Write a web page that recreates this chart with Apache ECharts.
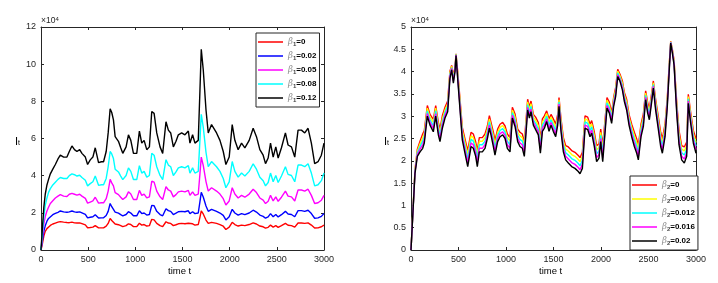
<!DOCTYPE html>
<html><head><meta charset="utf-8">
<script src="https://cdn.jsdelivr.net/npm/echarts@6/dist/echarts.min.js"></script>
<style>html,body{margin:0;padding:0;background:#fff}#c{width:718px;height:283px}</style>
</head><body><div id="c"></div>
<script>
// ---------- left panel (values in units of 10^4) ----------
const tL = [0,15,30,45,63,80,99,125,152,180,
205,240,275,300,328,355,381,410,434,451,
470,494,522,550,575,610,640,663,691,712,
733,750,768,786,821,845,867,902,927,952,
980,1015,1043,1068,1093,1121,1149,1174,1199,1227,
1262,1290,1325,1350,1375,1403,1431,1456,1491,1526,
1562,1579,1607,1632,1667,1685,1699,1720,1749,1773,
1808,1826,1861,1897,1932,1960,1995,2027,2055,2090,
2126,2161,2207,2249,2284,2320,2355,2380,2408,2433,
2461,2489,2514,2549,2591,2619,2655,2690,2725,2761,
2796,2831,2866,2901,2937,2972,3000];
const L_red = [0,0.35,0.75,1.0,1.15,1.25,1.32,1.4,1.45,1.5,
1.53,1.5,1.48,1.47,1.5,1.46,1.45,1.46,1.42,1.43,
1.35,1.2,1.21,1.23,1.31,1.19,1.19,1.19,1.28,1.43,
1.7,1.59,1.53,1.40,1.36,1.31,1.26,1.31,1.41,1.37,
1.26,1.26,1.44,1.34,1.37,1.29,1.31,1.65,1.62,1.43,
1.31,1.26,1.52,1.45,1.43,1.31,1.36,1.41,1.43,1.41,
1.44,1.34,1.41,1.34,1.37,1.77,2.10,1.94,1.61,1.43,
1.49,1.50,1.43,1.37,1.28,1.10,1.23,1.49,1.37,1.29,
1.34,1.31,1.37,1.46,1.40,1.29,1.25,1.18,1.22,1.34,
1.23,1.31,1.22,1.31,1.43,1.33,1.31,1.23,1.45,1.45,
1.43,1.46,1.34,1.18,1.19,1.25,1.34];
const L_blue = [0,0.5,1.0,1.3,1.55,1.7,1.8,1.9,1.97,2.03,
2.1,2.05,2.03,2.05,2.1,2.05,2.03,2.05,2.0,2.02,
1.92,1.73,1.76,1.79,1.90,1.72,1.73,1.73,1.86,2.08,
2.5,2.33,2.24,2.04,1.98,1.90,1.84,1.91,2.06,1.99,
1.84,1.84,2.11,1.96,1.99,1.88,1.91,2.4,2.38,2.08,
1.91,1.84,2.22,2.12,2.08,1.91,1.98,2.06,2.08,2.06,
2.11,1.96,2.06,1.96,1.99,2.60,3.10,2.85,2.37,2.08,
2.19,2.20,2.08,1.99,1.86,1.62,1.79,2.19,1.99,1.88,
1.96,1.90,1.99,2.14,2.04,1.88,1.81,1.71,1.78,1.96,
1.79,1.91,1.78,1.90,2.08,1.94,1.91,1.79,2.12,2.12,
2.08,2.14,1.96,1.71,1.73,1.81,1.96];
const L_magenta = [0,0.7,1.4,1.8,2.1,2.3,2.5,2.65,2.8,2.9,
2.98,2.9,2.88,3.0,3.05,3.0,2.95,3.0,2.9,2.93,
2.78,2.52,2.58,2.64,2.84,2.52,2.54,2.54,2.76,3.17,
3.8,3.61,3.45,3.09,2.98,2.84,2.72,2.86,3.13,3.01,
2.72,2.72,3.21,2.94,3.01,2.80,2.86,3.7,3.65,3.17,
2.86,2.72,3.41,3.23,3.17,2.86,2.98,3.13,3.17,3.13,
3.21,2.94,3.13,2.94,3.01,4.10,5.00,4.55,3.68,3.17,
3.35,3.37,3.17,3.01,2.76,2.42,2.64,3.35,3.01,2.80,
2.94,2.84,3.01,3.27,3.09,2.80,2.68,2.50,2.62,2.94,
2.64,2.86,2.62,2.84,3.17,2.90,2.86,2.64,3.23,3.23,
3.17,3.27,2.94,2.50,2.54,2.68,2.94];
const L_cyan = [0,0.9,1.8,2.4,2.8,3.1,3.3,3.5,3.65,3.8,
3.9,3.85,3.85,4.0,4.1,4.05,3.98,4.02,3.9,3.95,
3.75,3.45,3.57,3.67,3.98,3.48,3.51,3.51,3.85,4.48,
5.3,5.17,4.92,4.35,4.20,3.98,3.79,4.01,4.42,4.23,
3.79,3.79,4.54,4.14,4.23,3.92,4.01,5.2,5.1,4.48,
4.01,3.79,4.86,4.57,4.48,4.01,4.20,4.42,4.48,4.42,
4.54,4.14,4.42,4.14,4.23,5.92,7.30,6.61,5.26,4.48,
4.76,4.79,4.48,4.23,3.85,3.35,3.67,4.76,4.23,3.92,
4.14,3.98,4.23,4.64,4.35,3.92,3.73,3.45,3.63,4.14,
3.67,4.01,3.63,3.98,4.48,4.07,4.01,3.67,4.57,4.57,
4.48,4.64,4.14,3.45,3.51,3.73,4.14];
const L_black = [0,1.2,2.3,3.0,3.5,3.8,4.1,4.35,4.6,4.9,
5.1,5.0,5.0,5.3,5.6,5.4,5.3,5.4,5.2,5.3,
5.0,4.6,4.85,5.0,5.5,4.7,4.75,4.75,5.3,6.3,
7.6,7.4,7.0,6.1,5.85,5.5,5.2,5.55,6.2,5.9,
5.2,5.2,6.4,5.75,5.9,5.4,5.55,7.45,7.35,6.3,
5.55,5.2,6.9,6.45,6.3,5.55,5.85,6.2,6.3,6.2,
6.4,5.75,6.2,5.75,5.9,8.6,10.8,9.7,7.55,6.3,
6.75,6.8,6.3,5.9,5.3,4.6,5.0,6.75,5.9,5.4,
5.75,5.5,5.9,6.55,6.1,5.4,5.1,4.65,4.95,5.75,
5.0,5.55,4.95,5.5,6.3,5.65,5.55,5.0,6.45,6.45,
6.3,6.55,5.75,4.65,4.75,5.1,5.75];
const legendL = ['0','0.02','0.05','0.08','0.12'];
const colorsL = ['#ff0000','#0000ff','#ff00ff','#00ffff','#000000'];

// ---------- right panel (values in units of 10^4) ----------
const tR = [0,18,42,67,95,123,140,172,200,235,
260,288,305,330,358,386,410,428,446,463,
474,491,516,540,568,597,610,632,656,681,
698,719,751,779,804,825,842,867,884,912,
937,965,990,1014,1042,1067,1095,1123,1147,1172,
1193,1211,1228,1246,1263,1288,1312,1340,1362,1383,
1404,1428,1453,1474,1498,1523,1544,1558,1579,1604,
1628,1656,1691,1726,1761,1779,1804,1832,1860,1884,
1902,1930,1954,1979,1997,2018,2042,2063,2088,2112,
2133,2154,2176,2200,2225,2246,2270,2295,2323,2351,
2376,2393,2421,2446,2470,2491,2509,2534,2551,2575,
2604,2628,2646,2674,2698,2716,2734,2751,2769,2797,
2821,2849,2877,2902,2919,2944,2972,3000];
const R_red = [0,0.78,1.80,2.26,2.44,2.60,2.68,3.24,3.04,2.93,
3.24,2.86,2.71,3.01,3.20,3.34,4.01,4.14,3.90,4.10,
4.40,4.01,3.38,2.75,2.49,2.23,2.19,2.64,2.60,2.42,
2.23,2.52,2.52,2.60,2.78,3.01,2.86,2.64,2.45,2.71,
2.82,2.86,2.78,2.60,2.52,3.20,3.05,2.71,2.64,2.60,
2.42,2.38,3.38,3.20,3.34,3.04,2.98,2.86,2.49,2.94,
3.01,3.12,2.94,3.04,2.94,2.82,3.04,3.42,2.94,2.52,
2.34,2.31,2.23,2.19,2.12,2.07,2.19,3.01,2.98,2.82,
2.90,2.64,2.34,2.38,2.71,2.34,2.90,3.42,3.31,3.08,
3.42,3.64,4.05,3.94,3.79,3.53,3.38,3.04,2.82,2.64,
2.49,2.34,2.82,3.05,3.57,3.31,3.16,3.53,3.79,3.38,
2.98,2.64,2.49,2.82,3.42,4.09,4.68,4.50,4.25,3.31,
2.68,2.34,2.31,2.42,3.49,3.08,2.68,2.49];
const R_yellow = [0,0.77,1.78,2.22,2.38,2.52,2.61,3.18,2.98,2.86,
3.18,2.79,2.64,2.94,3.14,3.28,3.97,4.12,3.86,4.08,
4.39,3.97,3.32,2.68,2.41,2.14,2.10,2.56,2.52,2.34,
2.14,2.44,2.44,2.52,2.71,2.94,2.79,2.56,2.37,2.64,
2.75,2.79,2.71,2.52,2.44,3.14,2.98,2.64,2.56,2.52,
2.34,2.30,3.32,3.14,3.28,2.98,2.91,2.79,2.41,2.87,
2.94,3.06,2.87,2.98,2.87,2.75,2.98,3.37,2.87,2.44,
2.26,2.22,2.14,2.10,2.03,1.98,2.10,2.94,2.91,2.75,
2.83,2.56,2.25,2.30,2.64,2.25,2.83,3.36,3.25,3.02,
3.37,3.59,4.01,3.90,3.74,3.48,3.32,2.98,2.75,2.56,
2.41,2.26,2.75,2.98,3.52,3.25,3.10,3.48,3.75,3.32,
2.91,2.56,2.41,2.75,3.37,4.05,4.67,4.48,4.23,3.25,
2.60,2.26,2.22,2.34,3.44,3.02,2.61,2.41];
const R_cyan = [0,0.76,1.76,2.18,2.32,2.44,2.54,3.12,2.92,2.79,
3.12,2.72,2.57,2.87,3.08,3.22,3.93,4.09,3.82,4.05,
4.38,3.93,3.26,2.61,2.33,2.05,2.01,2.48,2.44,2.26,
2.05,2.36,2.36,2.44,2.64,2.87,2.72,2.48,2.29,2.57,
2.68,2.72,2.64,2.44,2.36,3.08,2.91,2.57,2.48,2.44,
2.26,2.22,3.26,3.08,3.22,2.92,2.84,2.72,2.33,2.80,
2.87,3.00,2.80,2.92,2.80,2.68,2.92,3.32,2.80,2.36,
2.18,2.13,2.05,2.01,1.94,1.89,2.01,2.87,2.84,2.68,
2.76,2.48,2.16,2.22,2.57,2.16,2.76,3.30,3.19,2.96,
3.32,3.54,3.97,3.86,3.69,3.43,3.26,2.92,2.68,2.48,
2.33,2.18,2.68,2.91,3.47,3.19,3.04,3.43,3.71,3.26,
2.84,2.48,2.33,2.68,3.32,4.01,4.66,4.46,4.20,3.19,
2.52,2.18,2.13,2.26,3.39,2.96,2.54,2.33];
const R_magenta = [0,0.75,1.74,2.14,2.26,2.36,2.47,3.06,2.86,2.72,
3.06,2.65,2.50,2.80,3.02,3.16,3.89,4.07,3.78,4.03,
4.37,3.89,3.20,2.54,2.25,1.96,1.92,2.40,2.36,2.18,
1.96,2.28,2.28,2.36,2.57,2.80,2.65,2.40,2.21,2.50,
2.61,2.65,2.57,2.36,2.28,3.02,2.84,2.50,2.40,2.36,
2.18,2.14,3.20,3.02,3.16,2.86,2.77,2.65,2.25,2.73,
2.80,2.94,2.73,2.86,2.73,2.61,2.86,3.27,2.73,2.28,
2.10,2.04,1.96,1.92,1.85,1.80,1.92,2.80,2.77,2.61,
2.69,2.40,2.07,2.14,2.50,2.07,2.69,3.24,3.13,2.90,
3.27,3.49,3.93,3.82,3.64,3.38,3.20,2.86,2.61,2.40,
2.25,2.10,2.61,2.84,3.42,3.13,2.98,3.38,3.67,3.20,
2.77,2.40,2.25,2.61,3.27,3.97,4.65,4.44,4.18,3.13,
2.44,2.10,2.04,2.18,3.34,2.90,2.47,2.25];
const R_black = [0,0.75,1.72,2.1,2.2,2.28,2.4,3.0,2.8,2.65,
3.0,2.58,2.43,2.73,2.96,3.1,3.85,4.04,3.74,4.0,
4.36,3.85,3.14,2.47,2.17,1.87,1.83,2.32,2.28,2.1,
1.87,2.2,2.2,2.28,2.5,2.73,2.58,2.32,2.13,2.43,
2.54,2.58,2.5,2.28,2.2,2.96,2.77,2.43,2.32,2.28,
2.1,2.06,3.14,2.96,3.1,2.8,2.7,2.58,2.17,2.66,
2.73,2.88,2.66,2.8,2.66,2.54,2.8,3.22,2.66,2.2,
2.02,1.95,1.87,1.83,1.76,1.71,1.83,2.73,2.7,2.54,
2.62,2.32,1.98,2.06,2.43,1.98,2.62,3.18,3.07,2.84,
3.22,3.44,3.89,3.78,3.59,3.33,3.14,2.8,2.54,2.32,
2.17,2.02,2.54,2.77,3.37,3.07,2.92,3.33,3.63,3.14,
2.7,2.32,2.17,2.54,3.22,3.93,4.64,4.42,4.15,3.07,
2.36,2.02,1.95,2.1,3.29,2.84,2.4,2.17];
const legendR = ['0','0.006','0.012','0.016','0.02'];
const colorsR = ['#ff0000','#ffff00','#00ffff','#ff00ff','#000000'];

const xTicks = {min:0, max:3000, interval:500};
const yTicksL = {min:0, max:12, interval:2};
const yTicksR = {min:0, max:5, interval:0.5};

// ---------- build ----------
const FONT = '"Liberation Sans", Arial, Helvetica, sans-serif';
const AX = '#262626';

function axisBase(grid, pos, labels, ticks){
  return {type:'value', gridIndex:grid, position:pos, min:ticks.min, max:ticks.max, interval:ticks.interval,
    axisLine:{show:true, onZero:false, lineStyle:{color:AX, width:1}},
    axisTick:{show:true, inside:true, length:3, lineStyle:{color:AX, width:1}},
    axisLabel:{show:labels, color:AX, fontSize:9, fontFamily:FONT, margin:5,
      formatter: v => String(v)},
    splitLine:{show:false}};
}

const series = [];
const dL = [L_red, L_blue, L_magenta, L_cyan, L_black];
const namesL = legendL.map(v => 'β1=' + v);
dL.forEach((arr, i) => series.push({
  type:'line', name:namesL[i], xAxisIndex:0, yAxisIndex:0, showSymbol:false, symbol:'none',
  color:colorsL[i], lineStyle:{width:1.4, color:colorsL[i]}, animation:false,
  data: tL.map((t, k) => [t, arr[k]])
}));
const dR = [R_red, R_yellow, R_cyan, R_magenta, R_black];
const namesR = legendR.map(v => 'β2=' + v);
dR.forEach((arr, i) => series.push({
  type:'line', name:namesR[i], xAxisIndex:2, yAxisIndex:2, showSymbol:false, symbol:'none',
  color:colorsR[i], lineStyle:{width:1.4, color:colorsR[i]}, animation:false,
  data: tR.map((t, k) => [t, arr[k]])
}));

const rich = {
  g:{fontFamily:'"DejaVu Serif", serif', fontStyle:'italic', color:'#8c8c8c', fontSize:8.5, lineHeight:10},
  s:{fontFamily:FONT, fontWeight:'bold', color:'#444', fontSize:6, lineHeight:6, verticalAlign:'bottom'},
  t:{fontFamily:FONT, fontWeight:'bold', color:'#000', fontSize:8, lineHeight:10}
};
function legendFmt(name){ return '{g|β}{s|' + name.charAt(1) + '}{t|' + name.slice(2) + '}'; }
function legendBase(names, left, top, pad){
  return {data:names.map(n => ({name:n, icon:'rect'})), left:left, top:top, orient:'vertical',
    itemWidth:25, itemHeight:1.5, itemGap:4,
    itemTextGap:3, padding:pad, backgroundColor:'#fff', borderColor:AX, borderWidth:1, borderRadius:0,
    formatter:legendFmt, selectedMode:false, itemStyle:{borderWidth:0},
    textStyle:{fontFamily:FONT, fontSize:8, lineHeight:10, rich:rich}};
}

function txt(x, y, rt, align){
  return {type:'text', left:x, top:y, style:{text:rt, align:align||'left', verticalAlign:'middle', font:'9px ' + FONT,
    rich:{
      a:{fontFamily:FONT, fontSize:8.5, fill:AX},
      p:{fontFamily:FONT, fontSize:6, fill:AX, verticalAlign:'top', lineHeight:6},
      i:{fontFamily:FONT, fontSize:11, fill:'#000'},
      u:{fontFamily:FONT, fontSize:7, fill:'#000', verticalAlign:'bottom', lineHeight:6},
      n:{fontFamily:FONT, fontSize:9.5, fill:'#000'}
    }}};
}

const option = {
  animation:false,
  backgroundColor:'#fff',
  grid:[
    {left:41, top:27, width:283, height:223, containLabel:false},
    {left:411, top:27, width:285, height:223, containLabel:false}
  ],
  xAxis:[axisBase(0,'bottom',true,xTicks), axisBase(0,'top',false,xTicks),
         axisBase(1,'bottom',true,xTicks), axisBase(1,'top',false,xTicks)],
  yAxis:[axisBase(0,'left',true,yTicksL), axisBase(0,'right',false,yTicksL),
         axisBase(1,'left',true,yTicksR), axisBase(1,'right',false,yTicksR)],
  legend:[legendBase(namesL, 256, 33, [4,3,4,2]), legendBase(namesR, 630, 176, [4,3,4,2])],
  graphic:[
    txt(41, 16, '{a|×10}{p|4}'),
    txt(411, 16, '{a|×10}{p|4}'),
    txt(15, 136, '{i|I}{u|t}'),
    txt(384, 136, '{i|I}{u|t}'),
    {type:'text', left:168, top:266, style:{text:'time t', font:'9.5px ' + FONT, fill:'#000'}},
    {type:'text', left:539, top:266, style:{text:'time t', font:'9.5px ' + FONT, fill:'#000'}}
  ],
  series:series
};
const chart = echarts.init(document.getElementById('c'), null, {renderer:'canvas'});
chart.setOption(option);
</script>
</body></html>
